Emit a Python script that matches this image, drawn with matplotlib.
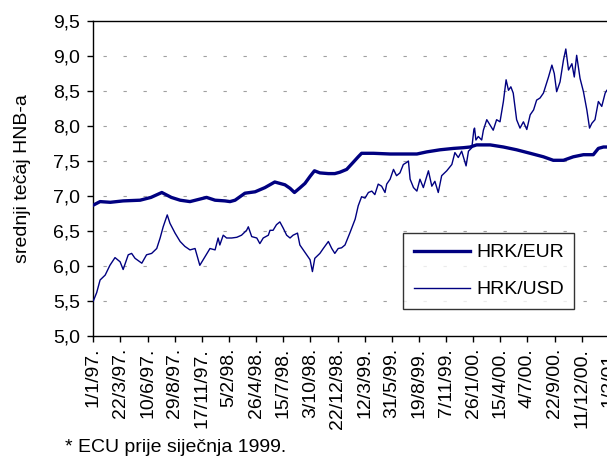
import matplotlib
matplotlib.use("Agg")
import matplotlib.pyplot as plt

# days counted from 1/1/97.
eur_days = [0, 20, 50, 88, 138, 170, 202, 230, 256, 285, 334, 359, 388, 403, 418,
            447, 477, 506, 535, 565, 580, 593, 610, 624, 639, 652, 668, 693, 712,
            727, 747, 766, 781, 791, 826, 875, 924, 954, 983, 1022, 1062, 1091,
            1111, 1130, 1170, 1209, 1248, 1288, 1327, 1356, 1386, 1415, 1445,
            1474, 1489, 1504, 1560]
eur_vals = [6.87, 6.92, 6.91, 6.93, 6.94, 6.98, 7.05, 6.98, 6.94, 6.92, 6.98, 6.94,
            6.93, 6.92, 6.94, 7.04, 7.06, 7.12, 7.20, 7.16, 7.11, 7.05, 7.12, 7.18,
            7.28, 7.36, 7.33, 7.32, 7.32, 7.34, 7.38, 7.48, 7.56, 7.61, 7.61, 7.60,
            7.60, 7.60, 7.63, 7.66, 7.68, 7.69, 7.70, 7.73, 7.73, 7.70, 7.66, 7.61,
            7.56, 7.51, 7.51, 7.56, 7.59, 7.59, 7.68, 7.70, 7.70]

usd_days = [0, 10, 20, 35, 49, 64, 79, 88, 103, 113, 123, 143, 157, 172, 187, 197,
            206, 218, 226, 241, 256, 270, 285, 300, 314, 329, 344, 359, 368, 373,
            383, 393, 408, 423, 437, 452, 457, 467, 482, 491, 501, 516, 521, 530,
            540, 550, 560, 570, 580, 589, 602, 609, 619, 629, 639, 646, 653, 668,
            678, 693, 703, 712, 722, 732, 742, 747, 757, 772, 781, 791, 801, 811,
            821, 830, 840, 850, 860, 865, 875, 885, 894, 904, 914, 924, 929, 934,
            944, 954, 963, 973, 988, 998, 1007, 1017, 1027, 1042, 1057, 1066, 1076,
            1086, 1099, 1106, 1116, 1122, 1124, 1128, 1135, 1145, 1150, 1160, 1170,
            1179, 1189, 1199, 1209, 1217, 1224, 1231, 1238, 1248, 1258, 1268, 1278,
            1288, 1298, 1307, 1317, 1327, 1342, 1352, 1359, 1366, 1376, 1386, 1393,
            1401, 1411, 1418, 1425, 1435, 1445, 1455, 1463, 1470, 1479, 1489, 1499,
            1509, 1514, 1560]
usd_vals = [5.50, 5.62, 5.80, 5.87, 6.01, 6.12, 6.06, 5.95, 6.16, 6.18, 6.11, 6.04,
            6.16, 6.18, 6.25, 6.40, 6.56, 6.73, 6.61, 6.47, 6.35, 6.28, 6.23, 6.25,
            6.01, 6.13, 6.25, 6.23, 6.40, 6.30, 6.44, 6.40, 6.40, 6.41, 6.44, 6.51,
            6.56, 6.42, 6.40, 6.32, 6.40, 6.44, 6.51, 6.51, 6.59, 6.63, 6.54, 6.44,
            6.40, 6.44, 6.47, 6.30, 6.23, 6.16, 6.09, 5.92, 6.11, 6.18, 6.25, 6.35,
            6.25, 6.18, 6.25, 6.26, 6.30, 6.36, 6.48, 6.67, 6.86, 6.99, 6.97, 7.05,
            7.07, 7.02, 7.17, 7.14, 7.05, 7.17, 7.24, 7.38, 7.29, 7.33, 7.45, 7.48,
            7.50, 7.24, 7.12, 7.07, 7.24, 7.12, 7.36, 7.14, 7.21, 7.05, 7.29, 7.36,
            7.45, 7.62, 7.55, 7.64, 7.43, 7.64, 7.69, 7.95, 7.97, 7.80, 7.85, 7.80,
            7.94, 8.09, 8.01, 7.94, 8.09, 8.06, 8.35, 8.66, 8.51, 8.56, 8.47, 8.09,
            7.97, 8.06, 7.95, 8.16, 8.23, 8.37, 8.40, 8.47, 8.70, 8.87, 8.75, 8.49,
            8.63, 8.94, 9.10, 8.80, 8.89, 8.70, 9.01, 8.68, 8.49, 8.23, 7.97, 8.04,
            8.09, 8.35, 8.28, 8.47, 8.51, 8.70]

tick_days = [80 * i for i in range(20)]
tick_labels = ["1/1/97.", "22/3/97.", "10/6/97.", "29/8/97.", "17/11/97.",
               "5/2/98.", "26/4/98.", "15/7/98.", "3/10/98.", "22/12/98.",
               "12/3/99.", "31/5/99.", "19/8/99.", "7/11/99.", "26/1/00.",
               "15/4/00.", "4/7/00.", "22/9/00.", "11/12/00.", "1/3/01."]
y_ticks = [5.0, 5.5, 6.0, 6.5, 7.0, 7.5, 8.0, 8.5, 9.0, 9.5]

plt.rcParams["font.family"] = ["Liberation Sans", "DejaVu Sans"]
plt.rcParams["lines.scale_dashes"] = False
navy = "#000080"
fs = 14

fig = plt.figure(figsize=(6.07, 4.58), dpi=100)
ax = fig.add_axes([93.3 / 607, 122 / 458, (620 - 93.3) / 607, 315 / 458])

for y in y_ticks[1:-1]:
    ax.axhline(y, color="#a0a0a0", lw=0.8, ls=(7.2, (2.4, 12)), zorder=1)

ax.plot(eur_days, eur_vals, color=navy, lw=2.4, label="HRK/EUR", zorder=3)
ax.plot(usd_days, usd_vals, color=navy, lw=1.0, label="HRK/USD", zorder=3)

ax.set_xlim(0, (620 - 93.3) / 0.3392)
ax.set_ylim(5.0, 9.5)
ax.set_yticks(y_ticks)
ax.set_yticklabels([f"{v:.1f}".replace(".", ",") for v in y_ticks], fontsize=fs)
ax.set_xticks(tick_days)
ax.set_xticklabels(tick_labels, rotation=90, fontsize=fs)
ax.tick_params(axis="both", direction="out", length=4.5, width=1, color="black")
ax.tick_params(axis="x", pad=4)
ax.tick_params(axis="y", pad=5)
for s in ax.spines.values():
    s.set_color("black")
    s.set_linewidth(1)

ax.set_ylabel("srednji tečaj HNB-a", fontsize=fs, labelpad=16)

leg = ax.legend(loc="upper left", bbox_to_anchor=((403 - 93.3) / 526.7, (336 - 233) / 315),
                borderaxespad=0, fontsize=fs, frameon=True, fancybox=False,
                handlelength=2.9, handletextpad=0.3, labelspacing=1.0,
                borderpad=0.55)
leg.get_frame().set_edgecolor("black")
leg.get_frame().set_linewidth(1)

fig.text(65 / 607, 1 - 447 / 458, "* ECU prije siječnja 1999.", fontsize=fs,
         va="center", ha="left")

fig.savefig("out.png", dpi=100)
